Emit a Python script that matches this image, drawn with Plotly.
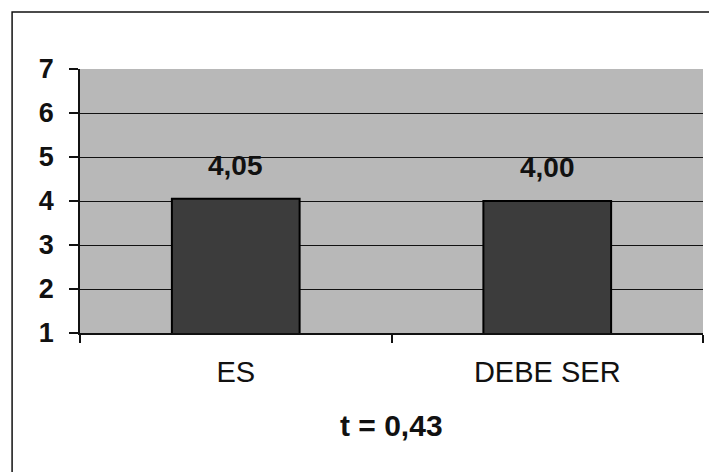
import plotly.graph_objects as go

# Mean scores for the two conditions
categories = ["ES", "DEBE SER"]
values = [4.05, 4.00]
y_ticks = [1, 2, 3, 4, 5, 6, 7]
grid_vals = [2, 3, 4, 5, 6]
t_stat = "t = 0,43"

FONT = "Liberation Sans, Arial, sans-serif"


def fmt(v):
    return f"{v:.2f}".replace(".", ",")


fig = go.Figure()
fig.add_trace(go.Bar(
    x=categories,
    y=values,
    marker=dict(color="#3c3c3c", line=dict(color="#000000", width=2)),
    showlegend=False,
    hoverinfo="skip",
))
# Empty trace that attaches the grid-only overlay axis
fig.add_trace(go.Scatter(
    x=categories, y=[None, None], yaxis="y2", mode="markers",
    showlegend=False, hoverinfo="skip",
))

# Value labels above each bar
for c, v in zip(categories, values):
    fig.add_annotation(
        x=c, y=v, text=fmt(v), showarrow=False,
        yanchor="bottom", yshift=16,
        font=dict(family=FONT, size=28, color="#111111", weight="bold"),
    )

# Statistic caption under the category labels
fig.add_annotation(
    xref="paper", yref="paper", x=0.5, y=-0.35, text=t_stat,
    showarrow=False, yanchor="middle",
    font=dict(family=FONT, size=30, color="#111111", weight="bold"),
)

# Outer chart border (runs off the right and bottom edges)
fig.add_shape(
    type="rect", xref="paper", yref="paper",
    x0=-0.109, x1=1.04, y0=-0.6, y1=1.216,
    line=dict(color="#111111", width=1.5), fillcolor="rgba(0,0,0,0)",
)

fig.update_layout(
    width=709, height=472,
    margin=dict(l=80, r=6, t=69, b=139),
    paper_bgcolor="white",
    plot_bgcolor="#b8b8b8",
    bargap=0.59,
    xaxis=dict(
        showline=True, linecolor="#111111", linewidth=1.5,
        ticks="outside", tickson="boundaries", ticklen=8,
        tickcolor="#111111", tickwidth=1.5,
        showgrid=False,
        tickfont=dict(family=FONT, size=29, color="#111111"),
        ticklabelstandoff=12,
    ),
    yaxis=dict(
        range=[1, 7], tickvals=y_ticks,
        showline=True, linecolor="#111111", linewidth=1.5,
        ticks="outside", ticklen=9, tickcolor="#111111", tickwidth=1.5,
        showgrid=False, zeroline=False,
        tickfont=dict(family=FONT, size=27, color="#111111", weight="bold"),
        ticklabelstandoff=10,
    ),
    yaxis2=dict(
        overlaying="y", matches="y", tickvals=grid_vals,
        showgrid=True, gridcolor="#111111", gridwidth=1.2,
        showticklabels=False, ticks="", showline=False, zeroline=False,
    ),
)

fig.write_html("out.html")
